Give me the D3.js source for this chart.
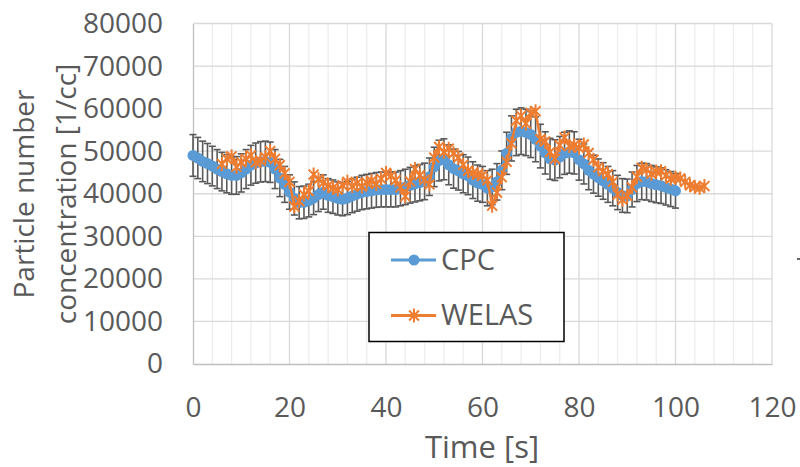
<!DOCTYPE html>
<html>
<head>
<meta charset="utf-8">
<script src="https://cdn.jsdelivr.net/npm/d3@7"></script>
<style>
  html, body { margin: 0; padding: 0; background: #fff; }
  svg { display: block; }
  text { font-family: "Open Sans", "Liberation Sans", sans-serif; fill: #595959; }
</style>
</head>
<body>
<svg id="chart" width="800" height="467"></svg>
<script>
// Time axis (seconds) for each instrument, sampled every second
const cpcTime = d3.range(0, 101);
const welasTime = d3.range(6, 107);

// CPC particle number concentration [1/cc]
const cpcValues = [
  49000, 48400, 47600, 47100, 46500, 45800, 45200, 44700, 44300, 44300,
  44900, 45800, 46700, 47200, 47500, 47600, 47400, 45800, 43700, 42200,
  40400, 38900, 37900, 38000, 38400, 39000, 39800, 40400, 39600, 39300,
  38900, 38700, 39000, 39500, 39900, 40300, 40500, 40700, 40900, 41000,
  41000, 41000, 41000, 41300, 41600, 42000, 42300, 42600, 42900, 44000,
  46300, 47800, 48100, 46800, 45900, 45400, 44700, 44200, 43200, 42500,
  42200, 41300, 41600, 42800, 45500, 49500, 53000, 54400, 54700, 54400,
  53900, 52800, 51200, 49600, 48200, 47900, 48600, 49500, 49800, 49600,
  48000, 47000, 45500, 44600, 43800, 43000, 42200, 41300, 40300, 39600,
  39500, 41000, 42400, 42900, 42800, 42400, 42100, 41900, 41500, 41100,
  40700
];

// WELAS particle number concentration [1/cc]
const welasValues = [
  47000, 48200, 48800, 46300, 47400, 48200, 49000, 47400, 47800, 48600,
  50000, 48200, 46700, 44800, 42800, 37000, 38300, 39800, 40600, 44500,
  43400, 42600, 41900, 41400, 41000, 42000, 42800, 41800, 42500, 41700,
  42600, 43000, 42300, 43500, 44900, 44200, 43200, 41500, 39400, 42900,
  45800, 44300, 43300, 42200, 48500, 51000, 49800, 50600, 49500, 48500,
  46800, 45400, 44900, 44600, 44300, 43200, 37200, 40300, 43900, 47500,
  51800, 57200, 58300, 56500, 59000, 59400, 52800, 52300, 49800, 48200,
  51400, 53200, 51200, 51400, 50800, 51600, 49600, 48000, 46200, 45300,
  44600, 42800, 39800, 38600, 39500, 41500, 44000, 46100, 45700, 44700,
  45200, 45300, 44300, 43500, 43800, 43600, 42800, 42000, 41600, 41400,
  41800
];

// CPC error bars: percentage of each value
const cpcErrorFraction = 0.10;

const xTicks = [0, 20, 40, 60, 80, 100, 120];
const xMinorTicks = d3.range(0, 121, 4);
const yTicks = [0, 10000, 20000, 30000, 40000, 50000, 60000, 70000, 80000];

const seriesNames = ["CPC", "WELAS"];
const seriesColors = ["#5B9BD5", "#ED7D31"];

const svg = d3.select("#chart");
const x = d3.scaleLinear().domain([0, 120]).range([193, 772]);
const y = d3.scaleLinear().domain([0, 80000]).range([364, 23.5]);

// Minor vertical gridlines
svg.append("g").selectAll("line").data(xMinorTicks.filter(t => t % 20 !== 0)).join("line")
  .attr("x1", d => x(d)).attr("x2", d => x(d))
  .attr("y1", y(0)).attr("y2", y(80000))
  .attr("stroke", "#ededed").attr("stroke-width", 1.3);

// Major gridlines
svg.append("g").selectAll("line").data(xTicks.slice(1)).join("line")
  .attr("x1", d => x(d)).attr("x2", d => x(d))
  .attr("y1", y(0)).attr("y2", y(80000))
  .attr("stroke", "#d9d9d9").attr("stroke-width", 1.3);
svg.append("g").selectAll("line").data(yTicks.slice(1)).join("line")
  .attr("x1", x(0)).attr("x2", x(120))
  .attr("y1", d => y(d)).attr("y2", d => y(d))
  .attr("stroke", "#d9d9d9").attr("stroke-width", 1.3);

// Axes
const xAxis = svg.append("g").attr("transform", `translate(0,${y(0)})`)
  .call(d3.axisBottom(x).tickValues(xTicks).tickSize(0).tickPadding(33).tickFormat(d3.format("d")));
const yAxis = svg.append("g").attr("transform", `translate(${x(0)},0)`)
  .call(d3.axisLeft(y).tickValues(yTicks).tickSize(0).tickPadding(30).tickFormat(d3.format("d")));
[xAxis, yAxis].forEach(a => {
  a.select(".domain").attr("stroke", "#bfbfbf").attr("stroke-width", 1.3);
  a.selectAll("text").attr("font-size", 28).attr("fill", "#595959")
    .style("font-family", '"Open Sans", sans-serif');
});

// Axis titles
svg.append("text").attr("x", 482).attr("y", 458).attr("text-anchor", "middle")
  .attr("font-size", 31).text("Time [s]");
const yTitle = svg.append("text").attr("transform", "translate(0,194) rotate(-90)")
  .attr("text-anchor", "middle").attr("font-size", 28);
yTitle.append("tspan").attr("x", 0).attr("y", 34).text("Particle number");
yTitle.append("tspan").attr("x", 0).attr("y", 76).text("concentration [1/cc]");

// CPC error bars
const cpc = cpcTime.map((t, i) => ({ t, v: cpcValues[i] }));
const welas = welasTime.map((t, i) => ({ t, v: welasValues[i] }));
const eb = svg.append("g").attr("stroke", "#595959").attr("stroke-width", 1.6);
cpc.forEach(d => {
  const e = d.v * cpcErrorFraction;
  const cx = x(d.t);
  eb.append("line").attr("x1", cx).attr("x2", cx).attr("y1", y(d.v - e)).attr("y2", y(d.v + e));
  eb.append("line").attr("x1", cx - 3.5).attr("x2", cx + 3.5).attr("y1", y(d.v - e)).attr("y2", y(d.v - e));
  eb.append("line").attr("x1", cx - 3.5).attr("x2", cx + 3.5).attr("y1", y(d.v + e)).attr("y2", y(d.v + e));
});

const line = d3.line().x(d => x(d.t)).y(d => y(d.v));

// CPC series
svg.append("path").datum(cpc).attr("d", line).attr("fill", "none")
  .attr("stroke", seriesColors[0]).attr("stroke-width", 3.5);
svg.append("g").selectAll("circle").data(cpc).join("circle")
  .attr("cx", d => x(d.t)).attr("cy", d => y(d.v)).attr("r", 5.5)
  .attr("fill", seriesColors[0]);

// Asterisk marker path centered on the origin
function asterisk(s) {
  const a = s * 0.7071;
  return `M${-a},${-a}L${a},${a}M${-a},${a}L${a},${-a}M0,${-s}L0,${s}`;
}

// WELAS series
svg.append("path").datum(welas).attr("d", line).attr("fill", "none")
  .attr("stroke", seriesColors[1]).attr("stroke-width", 2.5);
svg.append("g").selectAll("path").data(welas).join("path")
  .attr("transform", d => `translate(${x(d.t)},${y(d.v)})`)
  .attr("d", asterisk(7)).attr("fill", "none")
  .attr("stroke", seriesColors[1]).attr("stroke-width", 2);

// Legend
const lg = svg.append("g");
lg.append("rect").attr("x", 369).attr("y", 232.5).attr("width", 195).attr("height", 109)
  .attr("fill", "#fff").attr("stroke", "#000").attr("stroke-width", 1.5);
const rows = [260, 315.5];
seriesNames.forEach((name, i) => {
  const ry = rows[i];
  lg.append("line").attr("x1", 391).attr("x2", 436).attr("y1", ry).attr("y2", ry)
    .attr("stroke", seriesColors[i]).attr("stroke-width", 3);
  if (i === 0) {
    lg.append("circle").attr("cx", 414).attr("cy", ry).attr("r", 5.5).attr("fill", seriesColors[0]);
  } else {
    lg.append("path").attr("transform", `translate(414,${ry})`).attr("d", asterisk(7))
      .attr("fill", "none").attr("stroke", seriesColors[1]).attr("stroke-width", 2);
  }
  lg.append("text").attr("x", 441).attr("y", ry + 9.5).attr("font-size", 29).text(name);
});

// Small mark at the right edge
svg.append("line").attr("x1", 797).attr("x2", 800).attr("y1", 259).attr("y2", 259)
  .attr("stroke", "#333").attr("stroke-width", 1.5);
</script>
</body>
</html>
